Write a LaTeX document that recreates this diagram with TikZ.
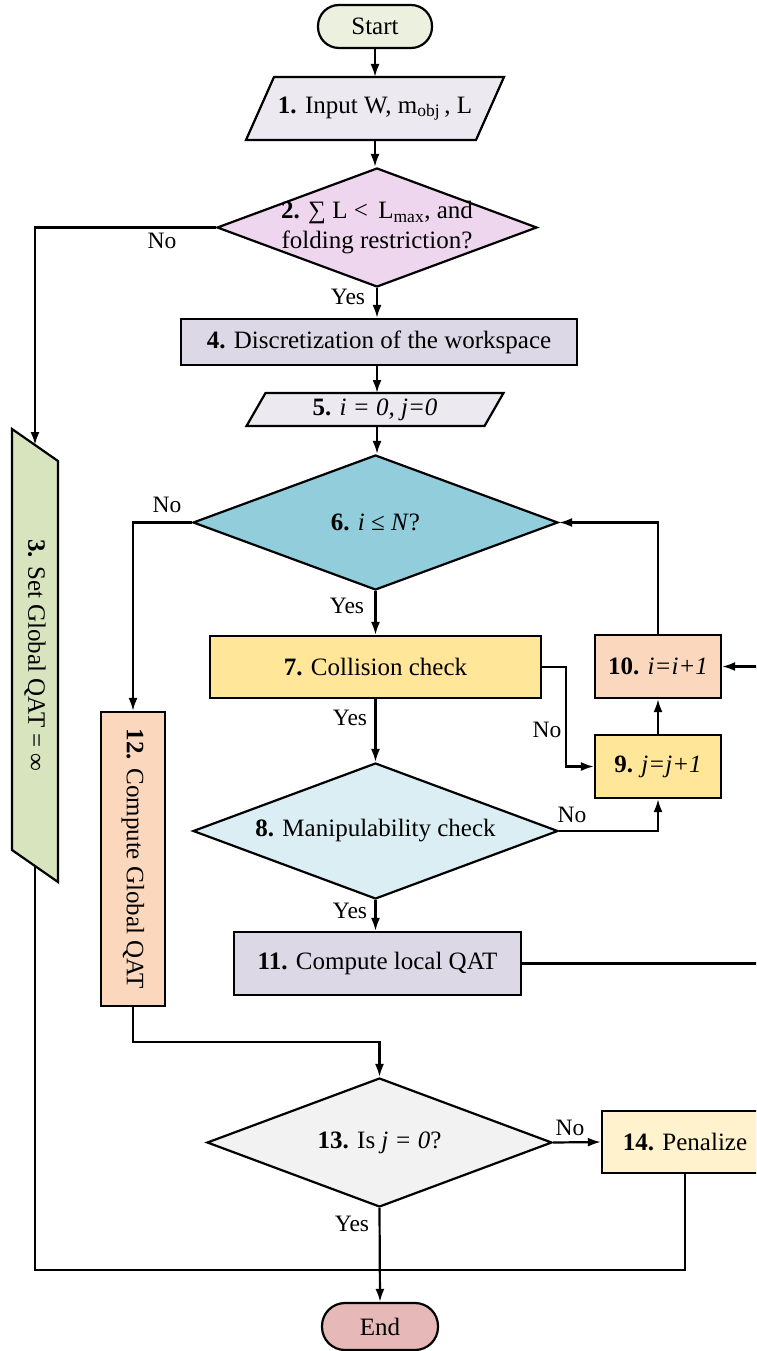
\documentclass[tikz,border=0pt]{standalone}
\usepackage{fontspec}
\setmainfont{Liberation Serif}
\usetikzlibrary{arrows.meta,shapes.geometric,calc}
\definecolor{cstart}{HTML}{EBF1DE}
\definecolor{cinput}{HTML}{ECE9F1}
\definecolor{cdtwo}{HTML}{EFD6EF}
\definecolor{cfour}{HTML}{DCD8E6}
\definecolor{cteal}{HTML}{92CDDC}
\definecolor{cyellow}{HTML}{FFE699}
\definecolor{cpeach}{HTML}{FAD7BD}
\definecolor{clblue}{HTML}{DAEEF3}
\definecolor{cgreen}{HTML}{D7E4BD}
\definecolor{cgray}{HTML}{F2F2F2}
\definecolor{ccream}{HTML}{FFF2CC}
\definecolor{cend}{HTML}{E6B9B8}
\begin{document}
\begin{tikzpicture}[x=1pt,y=-1pt,
  every node/.style={font=\fontsize{25}{30}\selectfont},
  ln/.style={line width=2.2pt},
  arr/.style={line width=2.2pt,-{Latex[length=13pt,width=9pt]}},
  rbox/.style={draw,line width=2.2pt,rectangle,inner sep=0pt,align=center},
  dshape/.style={draw,line width=2.2pt,diamond,inner sep=0pt},
  ghost/.style={rectangle,inner sep=0pt,outer sep=0pt},
  lab/.style={font=\fontsize{23.5}{28}\selectfont,inner sep=0pt}
]
\useasboundingbox (0,0) rectangle (756,1351);
\clip (0,0) rectangle (756,1351);

% Start
\node[rbox, fill=cstart, rounded corners=21pt, minimum width=114pt, minimum height=43pt] (start) at (375,26.5) {Start};

% 1 parallelogram
\node[ghost, minimum width=258pt, minimum height=63pt] (n1) at (375,108.5) {};
\draw[ln, fill=cinput] ($(n1.north west)+(28,0)$) -- (n1.north east) -- ($(n1.south east)+(-28,0)$) -- (n1.south west) -- cycle;
\node (t1) at (n1) {\textbf{1.} Input W, m\textsubscript{obj}\,, L};

% 2 diamond
\node[dshape, fill=cdtwo, minimum width=320pt, minimum height=119pt] (d2) at (377,227.5) {};
\node[align=center] (t2) at (d2) {\textbf{2.} ∑ L <\, L\textsubscript{max}, and\\folding restriction?};

% 4
\node[rbox, fill=cfour, minimum width=396pt, minimum height=46pt] (n4) at (379,342) {\textbf{4.} Discretization of the workspace};

% 5 parallelogram
\node[ghost, minimum width=257pt, minimum height=33pt] (n5) at (375,409.5) {};
\draw[ln, fill=cinput] ($(n5.north west)+(19,0)$) -- (n5.north east) -- ($(n5.south east)+(-19,0)$) -- (n5.south west) -- cycle;
\node (t5) at (n5) {\textbf{5.} \textit{i = 0, j=0}};

% 6 diamond
\node[dshape, fill=cteal, minimum width=365pt, minimum height=135pt] (d6) at (375.5,522.5) {};
\node (t6) at (d6) {\textbf{6.} \textit{i} ≤ \textit{N}?};

% 7
\node[rbox, fill=cyellow, minimum width=331pt, minimum height=62pt] (n7) at (375.5,667) {\textbf{7.} Collision check};

% 10
\node[rbox, fill=cpeach, minimum width=126pt, minimum height=63pt] (n10) at (658,666.5) {\textbf{10.} \textit{i=i+1}};

% 9
\node[rbox, fill=cyellow, minimum width=126pt, minimum height=63pt] (n9) at (658,766.5) {\textbf{9.} \textit{j=j+1}};

% 8 diamond
\node[dshape, fill=clblue, minimum width=365pt, minimum height=136pt] (d8) at (375.5,831) {};
\node (t8) at (d8) {\textbf{8.} Manipulability check};

% 11
\node[rbox, fill=cfour, minimum width=287pt, minimum height=63pt] (n11) at (377.5,963.5) {\textbf{11.} Compute local QAT};

% 12
\node[rbox, fill=cpeach, minimum width=64pt, minimum height=294pt] (n12) at (133,859) {};
\node[rotate=-90] (t12) at (n12) {\textbf{12.} Compute Global QAT};

% 3 slanted
\node[ghost, minimum width=46pt, minimum height=453pt] (n3) at (35,655.5) {};
\draw[ln, fill=cgreen] (n3.north west) -- ($(n3.north east)+(0,32)$) -- (n3.south east) -- ($(n3.south west)+(0,-32)$) -- cycle;
\node[rotate=-90] (t3) at (n3) {\textbf{3.} Set Global QAT = ∞};

% 13 diamond
\node[dshape, fill=cgray, minimum width=345pt, minimum height=129pt] (d13) at (379.5,1142.5) {};
\node (t13) at (d13) {\textbf{13.} Is \textit{j = 0}?};

% 14
\node[rbox, fill=ccream, minimum width=166pt, minimum height=62pt] (n14) at (685,1142) {\textbf{14.} Penalize};

% End
\node[rbox, fill=cend, rounded corners=23pt, minimum width=116pt, minimum height=47pt] (end) at (380,1326.5) {End};

% connectors
\draw[arr] (start.south) -- (start.south |- n1.north);
\draw[arr] (t1 |- n1.south) -- (t1 |- d2.north);
\draw[arr] (d2.west) -| ($(n3.north)+(0,16)$);
\draw[arr] (d2.south) -- (d2.south |- n4.north);
\draw[arr] (d2.south |- n4.south) -- (d2.south |- n5.north);
\draw[arr] (d2.south |- n5.south) -- (d2.south |- d6.north);
\draw[arr] (d6.west) -| (n12.north);
\draw[arr] (d6.south) -- (d6.south |- n7.north);
\draw[arr] (d6.south |- n7.south) -- (d8.north);
\draw[arr] (n7.east) -- ++(24,0) |- (n9.west);
\draw[arr] (d8.east) -| (n9.south);
\draw[arr] (n9.north) -- (n10.south);
\draw[arr] (n10.north) |- (d6.east);
\draw[arr] (d8.south) -- (d8.south |- n11.north);
\draw[arr] (n11.east) -- ++(300,0) |- (n10.east);
\draw[arr] (n12.south) |- ($(d13.north)+(0,-35)$) -- (d13.north);
\draw[arr] (d13.east) -- (n14.west);
\draw[arr] (d13.south) -- (end.north);
\coordinate (bus) at (380,1270);
\draw[ln] ($(n3.south)+(0,-16)$) |- (bus) -| (n14.south);

% labels
\node[lab] (l1) at (162,241) {No};
\node[lab] (l2) at (348,297) {Yes};
\node[lab] (l3) at (167,505) {No};
\node[lab] (l4) at (347,606) {Yes};
\node[lab] (l5) at (350,718) {Yes};
\node[lab] (l6) at (547,730) {No};
\node[lab] (l7) at (572,815) {No};
\node[lab] (l8) at (350,911) {Yes};
\node[lab] (l9) at (570,1128) {No};
\node[lab] (l10) at (352,1224) {Yes};
\end{tikzpicture}
\end{document}
